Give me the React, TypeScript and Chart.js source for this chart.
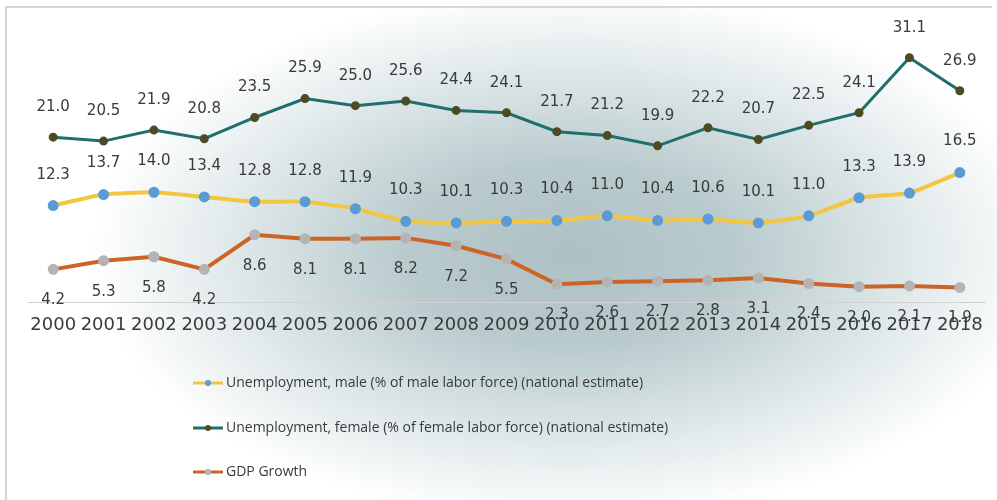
import React, { useEffect, useRef } from "react";
import { Chart, registerables } from "chart.js";

Chart.register(...registerables);

const years = ["2000","2001","2002","2003","2004","2005","2006","2007","2008","2009","2010","2011","2012","2013","2014","2015","2016","2017","2018"];
const maleUnemployment = [12.3,13.7,14.0,13.4,12.8,12.8,11.9,10.3,10.1,10.3,10.4,11.0,10.4,10.6,10.1,11.0,13.3,13.9,16.5];
const femaleUnemployment = [21.0,20.5,21.9,20.8,23.5,25.9,25.0,25.6,24.4,24.1,21.7,21.2,19.9,22.2,20.7,22.5,24.1,31.1,26.9];
const gdpGrowth = [4.2,5.3,5.8,4.2,8.6,8.1,8.1,8.2,7.2,5.5,2.3,2.6,2.7,2.8,3.1,2.4,2.0,2.1,1.9];

const maleLabel = "Unemployment, male (% of male labor force) (national estimate)";
const femaleLabel = "Unemployment, female (% of female labor force) (national estimate)";
const gdpLabel = "GDP Growth";

const TEXT = "#3a3a3a";

const bgPlugin = {
  id: "bg",
  beforeDraw(chart: any) {
    const ctx = chart.ctx;
    const w = chart.width, h = chart.height;
    ctx.save();
    ctx.fillStyle = "#ffffff";
    ctx.fillRect(0, 0, w, h);
    const cx = 570, cy = 255, rx = 480, ry = 265;
    ctx.translate(cx, cy);
    ctx.scale(1, ry / rx);
    const g = ctx.createRadialGradient(0, 0, 0, 0, 0, rx);
    g.addColorStop(0, "#adc0c4");
    g.addColorStop(0.35, "#bacbce");
    g.addColorStop(0.7, "#dfe8e9");
    g.addColorStop(1, "#ffffff");
    ctx.fillStyle = g;
    ctx.fillRect(-rx * 2, -rx * 2, rx * 4, rx * 4);
    ctx.restore();
    ctx.save();
    ctx.strokeStyle = "#d6d6d6";
    ctx.lineWidth = 2;
    ctx.beginPath();
    ctx.moveTo(6, h);
    ctx.lineTo(6, 7);
    ctx.lineTo(992, 7);
    ctx.stroke();
    ctx.restore();
  },
};

const labelOffsets = [-31, -30, 31];

const dataLabelPlugin = {
  id: "dataLabels",
  afterDatasetsDraw(chart: any) {
    const ctx = chart.ctx;
    ctx.save();
    ctx.font = "15px 'DejaVu Sans'";
    ctx.fillStyle = TEXT;
    ctx.textAlign = "center";
    ctx.textBaseline = "middle";
    chart.data.datasets.forEach((ds: any, di: number) => {
      const meta = chart.getDatasetMeta(di);
      meta.data.forEach((pt: any, i: number) => {
        const v = ds.data[i];
        ctx.fillText(v.toFixed(1), pt.x, pt.y + labelOffsets[di]);
      });
    });
    ctx.restore();
  },
};

const legendPlugin = {
  id: "customLegend",
  afterDraw(chart: any) {
    const ctx = chart.ctx;
    const ys = [383, 428, 472];
    ctx.save();
    ctx.font = "14px 'Open Sans'";
    ctx.textBaseline = "middle";
    ctx.textAlign = "left";
    chart.data.datasets.forEach((ds: any, di: number) => {
      const y = ys[di];
      ctx.strokeStyle = ds.borderColor;
      ctx.lineWidth = 3;
      ctx.beginPath();
      ctx.moveTo(193, y);
      ctx.lineTo(223, y);
      ctx.stroke();
      ctx.fillStyle = ds.pointBackgroundColor;
      ctx.beginPath();
      ctx.arc(208, y, 3, 0, Math.PI * 2);
      ctx.fill();
      ctx.fillStyle = TEXT;
      ctx.fillText(ds.label, 226, y);
    });
    ctx.restore();
  },
};

export default function App() {
  const ref = useRef<HTMLCanvasElement>(null);
  useEffect(() => {
    const chart = new Chart(ref.current!, {
      type: "line",
      data: {
        labels: years,
        datasets: [
          {
            label: maleLabel,
            data: maleUnemployment,
            borderColor: "#f3c63f",
            backgroundColor: "#f3c63f",
            pointBackgroundColor: "#5b9bd5",
            pointBorderColor: "#5b9bd5",
            borderWidth: 4,
            pointRadius: 3.5,
            tension: 0.15,
          },
          {
            label: femaleLabel,
            data: femaleUnemployment,
            borderColor: "#1f6f6c",
            backgroundColor: "#1f6f6c",
            pointBackgroundColor: "#4e4a22",
            pointBorderColor: "#4e4a22",
            borderWidth: 3,
            pointRadius: 3,
            tension: 0,
          },
          {
            label: gdpLabel,
            data: gdpGrowth,
            borderColor: "#cc6428",
            backgroundColor: "#cc6428",
            pointBackgroundColor: "#b4b4b4",
            pointBorderColor: "#b4b4b4",
            borderWidth: 4,
            pointRadius: 3.5,
            tension: 0,
          },
        ],
      },
      options: {
        animation: false,
        responsive: false,
        maintainAspectRatio: false,
        layout: { padding: { left: 28, right: 12, top: 27, bottom: 152 } },
        plugins: { legend: { display: false }, tooltip: { enabled: false } },
        scales: {
          x: {
            offset: true,
            grid: { display: false, drawTicks: false },
            border: { display: true, color: "#d2d2d2", width: 1 },
            ticks: {
              padding: 12,
              color: TEXT,
              font: { family: "'DejaVu Sans'", size: 18 },
              maxRotation: 0,
              autoSkip: false,
            },
          },
          y: { display: false, min: 0, max: 35 },
        },
      },
      plugins: [bgPlugin, dataLabelPlugin, legendPlugin],
    });
    return () => chart.destroy();
  }, []);
  return (
    <div style={{ position: "fixed", left: 0, top: 0, width: 997, height: 500 }}>
      <canvas ref={ref} width={997} height={500} style={{ display: "block" }} />
    </div>
  );
}
